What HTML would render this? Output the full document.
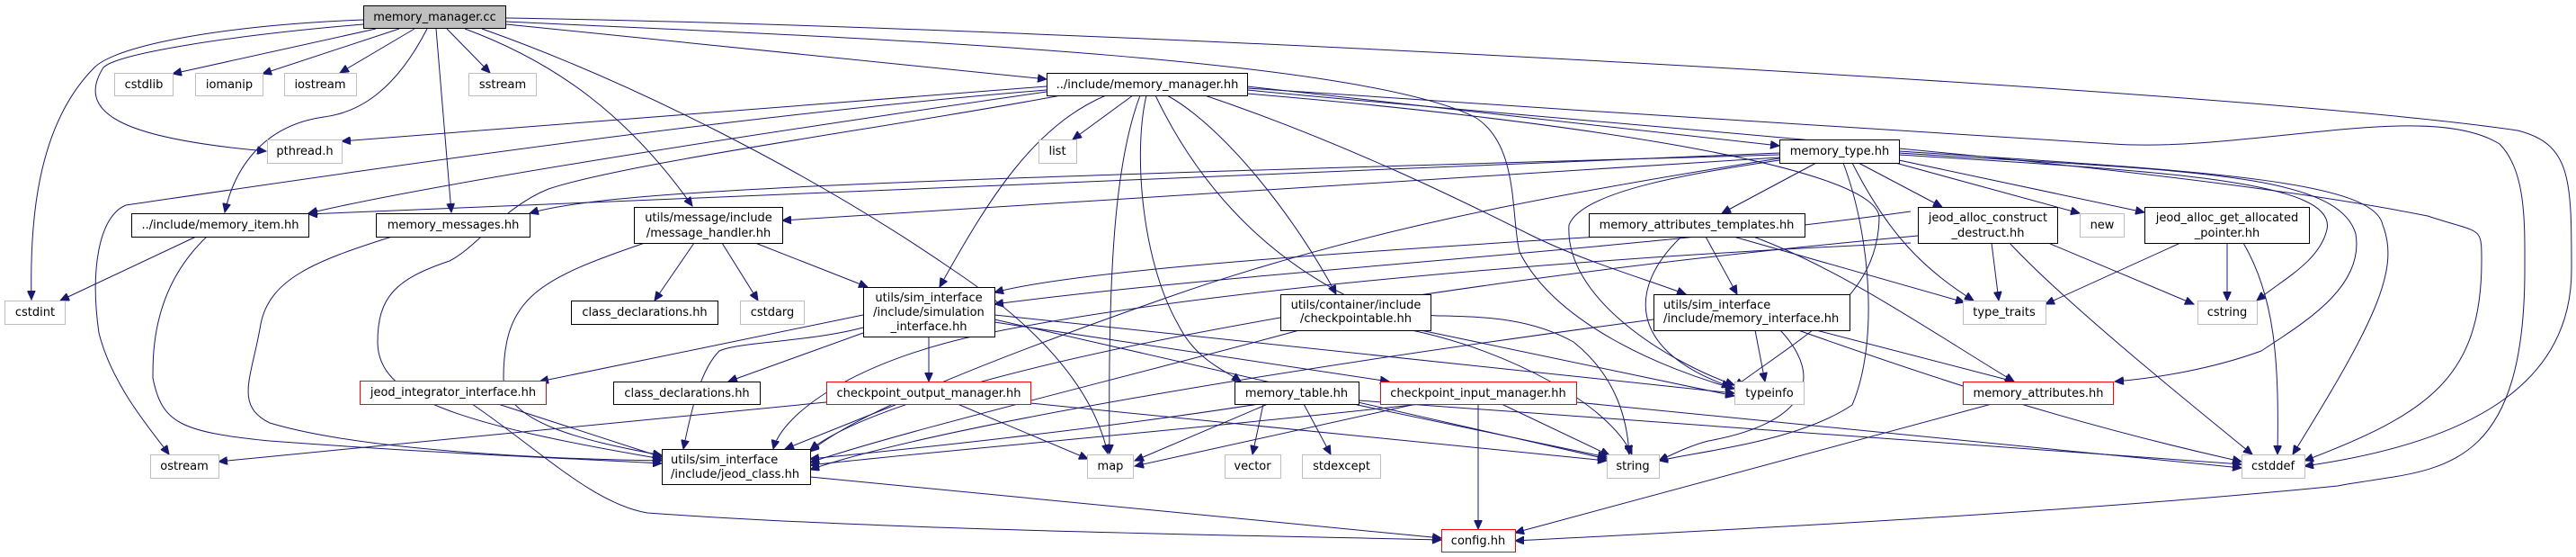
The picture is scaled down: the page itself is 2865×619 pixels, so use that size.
<!DOCTYPE html>
<html><head><meta charset="utf-8"><style>
html,body{margin:0;padding:0;background:#fff;}
svg{display:block;}
text{font-family:"DejaVu Sans","Liberation Sans",sans-serif;font-size:13px;fill:#000;}
.n rect{fill:#fff;stroke:#000;stroke-width:1;}
.g rect{fill:#fff;stroke:#bfbfbf;stroke-width:1;}
.r rect{fill:#fff;stroke:#ff0000;stroke-width:1;}
.e path{fill:none;stroke:#191970;stroke-width:1;}
</style></head><body>
<svg width="2865" height="619" viewBox="0 0 2865 619" xmlns="http://www.w3.org/2000/svg">
<defs><marker id="a" markerWidth="11" markerHeight="9" refX="10" refY="4.5" orient="auto" markerUnits="userSpaceOnUse"><path d="M0,0 L10,4.5 L0,9 z" fill="#191970" stroke="#191970"/></marker></defs>
<g class="e" marker-end="url(#a)">
<!-- memory_manager.cc -->
<path marker-end="url(#a)" d="M404,22 C250,28 130,50 105,75 C40,140 33,250 35,333"/>
<path marker-end="url(#a)" d="M404,27 C250,40 130,60 115,75 C80,130 150,155 296,168"/>
<path marker-end="url(#a)" d="M418,32 L192,82"/>
<path marker-end="url(#a)" d="M444,32 L292,82"/>
<path marker-end="url(#a)" d="M461,32 L378,81"/>
<path marker-end="url(#a)" d="M475,32 C440,100 400,125 360,130 C290,140 260,190 250,236"/>
<path marker-end="url(#a)" d="M485,32 L502,236"/>
<path marker-end="url(#a)" d="M497,32 L545,81"/>
<path marker-end="url(#a)" d="M563,27 L1164,88"/>
<path marker-end="url(#a)" d="M517,32 C620,70 700,130 770,229"/>
<path marker-end="url(#a)" d="M536,32 C700,90 900,190 1060,300 C1180,380 1220,450 1232,504"/>
<path marker-end="url(#a)" d="M563,24 C900,40 1500,60 1640,130 C1690,160 1680,240 1690,280 C1730,360 1850,410 1929,432"/>
<path marker-end="url(#a)" d="M563,20 C1200,30 2500,100 2800,145 C2860,160 2860,200 2860,300 C2860,420 2760,490 2563,518"/>
<!-- memory_manager.hh -->
<path marker-end="url(#a)" d="M1164,96 L380,157"/>
<path marker-end="url(#a)" d="M1164,100 C800,130 400,190 140,228 C110,240 100,300 110,370 C125,430 170,480 188,505"/>
<path marker-end="url(#a)" d="M1164,102 C900,140 500,200 343,237"/>
<path marker-end="url(#a)" d="M1180,106 C1000,140 700,180 610,210 C560,230 530,275 500,290 C440,310 420,330 420,380 C420,440 500,470 736,510"/>
<path marker-end="url(#a)" d="M1260,106 L1193,155"/>
<path marker-end="url(#a)" d="M1230,106 C1150,140 1100,220 1045,319"/>
<path marker-end="url(#a)" d="M1268,106 C1240,180 1232,300 1234,504"/>
<path marker-end="url(#a)" d="M1275,106 C1260,170 1270,290 1310,360 C1330,400 1360,410 1380,424"/>
<path marker-end="url(#a)" d="M1298,106 C1360,140 1440,240 1486,327"/>
<path marker-end="url(#a)" d="M1285,106 C1330,200 1400,280 1500,330 C1560,370 1660,330 1750,380 C1800,420 1810,470 1812,505"/>
<path marker-end="url(#a)" d="M1387,96 L1979,162"/>
<path marker-end="url(#a)" d="M1340,106 C1500,160 1640,230 1700,260 C1760,290 1830,310 1875,327"/>
<path marker-end="url(#a)" d="M1387,98 C1700,120 2200,150 2350,160 C2500,170 2700,110 2780,160 C2810,190 2808,250 2808,300 C2808,540 2700,520 2600,540 C2300,570 1900,590 1685,601"/>
<path marker-end="url(#a)" d="M1387,100 C1800,140 2400,180 2700,240 C2760,260 2760,250 2760,290 C2760,420 2700,460 2563,512"/>
<path marker-end="url(#a)" d="M1387,104 C1700,130 2080,180 2090,240 C2090,330 2010,370 1929,430"/>
<!-- memory_type.hh -->
<path marker-end="url(#a)" d="M1979,170 L343,238"/>
<path marker-end="url(#a)" d="M1979,172 C1000,200 680,210 589,237"/>
<path marker-end="url(#a)" d="M1979,175 L870,245"/>
<path marker-end="url(#a)" d="M2125,235 C1800,280 1400,300 1106,338"/>
<path marker-end="url(#a)" d="M1979,176 C1700,220 1500,260 1300,330 C1100,400 950,460 901,502"/>
<path marker-end="url(#a)" d="M2020,181 L1915,237"/>
<path marker-end="url(#a)" d="M1979,178 C1900,190 1760,210 1745,250 C1740,330 1850,400 1929,428"/>
<path marker-end="url(#a)" d="M2050,181 C2080,260 2090,380 2060,450 C2000,490 1900,500 1845,512"/>
<path marker-end="url(#a)" d="M2067,181 L2160,230"/>
<path marker-end="url(#a)" d="M2108,181 L2313,237"/>
<path marker-end="url(#a)" d="M2112,178 L2385,236"/>
<path marker-end="url(#a)" d="M2060,181 C2100,260 2140,300 2195,334"/>
<path marker-end="url(#a)" d="M2112,172 C2400,190 2600,200 2588,255 C2580,290 2540,310 2510,334"/>
<path marker-end="url(#a)" d="M2112,170 C2420,190 2600,190 2620,260 C2630,320 2560,360 2515,390 C2460,410 2400,420 2352,424"/>
<path marker-end="url(#a)" d="M2112,168 C2450,190 2640,200 2650,250 C2670,300 2640,360 2550,505"/>
<!-- memory_attributes_templates -->
<path marker-end="url(#a)" d="M1780,263 C1500,280 1200,300 1106,325"/>
<path marker-end="url(#a)" d="M2125,270 C1900,280 1400,310 1100,370 C950,400 870,460 860,499"/>
<path marker-end="url(#a)" d="M1897,263 L1932,327"/>
<path marker-end="url(#a)" d="M1870,263 C1810,320 1810,390 1925,430"/>
<path marker-end="url(#a)" d="M1928,263 L2185,336"/>
<path marker-end="url(#a)" d="M1950,263 C2050,300 2150,370 2240,424"/>
<!-- checkpointable -->
<path marker-end="url(#a)" d="M1445,367 C1250,420 1000,480 901,514"/>
<path marker-end="url(#a)" d="M1580,367 L1929,440"/>
<path marker-end="url(#a)" d="M1570,367 C1680,390 1790,450 1815,505"/>
<!-- memory_interface -->
<path marker-end="url(#a)" d="M1839,355 C1500,400 1050,470 901,522"/>
<path marker-end="url(#a)" d="M1952,367 L1963,424"/>
<path marker-end="url(#a)" d="M1980,367 C2030,420 2010,470 1900,490 C1880,495 1860,505 1845,512"/>
<path marker-end="url(#a)" d="M2020,367 L2240,424"/>
<path marker-end="url(#a)" d="M2000,367 C2150,420 2300,470 2493,513"/>
<!-- simulation_interface -->
<path marker-end="url(#a)" d="M960,350 L600,424"/>
<path marker-end="url(#a)" d="M960,370 L810,424"/>
<path marker-end="url(#a)" d="M1033,374 L1033,424"/>
<path marker-end="url(#a)" d="M960,364 C900,380 820,380 800,390 C780,410 770,450 760,499"/>
<path marker-end="url(#a)" d="M1106,358 L1545,424"/>
<path marker-end="url(#a)" d="M1106,355 L1787,510"/>
<path marker-end="url(#a)" d="M1106,350 L1929,437"/>
<!-- message_handler -->
<path marker-end="url(#a)" d="M772,270 L728,334"/>
<path marker-end="url(#a)" d="M803,270 L843,334"/>
<path marker-end="url(#a)" d="M840,270 L965,319"/>
<path marker-end="url(#a)" d="M717,270 C600,310 560,330 560,420 C560,470 650,490 736,506"/>
<!-- memory_item / memory_messages -->
<path marker-end="url(#a)" d="M218,263 L67,334"/>
<path marker-end="url(#a)" d="M230,263 C170,320 170,390 170,420 C180,470 200,480 300,490 C500,505 650,510 736,515"/>
<path marker-end="url(#a)" d="M436,263 C350,290 300,310 290,360 C280,420 260,450 300,470 C400,500 600,510 736,512"/>
<!-- jeod_integrator_interface -->
<path marker-end="url(#a)" d="M554,449 L736,508"/>
<path marker-end="url(#a)" d="M525,449 C600,500 660,560 720,570 C1000,590 1400,595 1603,600"/>
<!-- checkpoint_output_manager -->
<path marker-end="url(#a)" d="M998,449 L873,499"/>
<path marker-end="url(#a)" d="M1065,449 L1210,510"/>
<path marker-end="url(#a)" d="M919,447 L243,513"/>
<path marker-end="url(#a)" d="M1146,448 L1787,512"/>
<!-- memory_table -->
<path marker-end="url(#a)" d="M1400,449 C1200,480 1000,500 901,510"/>
<path marker-end="url(#a)" d="M1410,449 L1262,512"/>
<path marker-end="url(#a)" d="M1405,449 L1393,505"/>
<path marker-end="url(#a)" d="M1450,449 L1480,505"/>
<path marker-end="url(#a)" d="M1505,449 L1787,508"/>
<path marker-end="url(#a)" d="M1511,445 L2493,516"/>
<!-- checkpoint_input_manager -->
<path marker-end="url(#a)" d="M1580,449 C1300,480 1000,505 901,517"/>
<path marker-end="url(#a)" d="M1575,449 L1262,518"/>
<path marker-end="url(#a)" d="M1670,449 L1790,506"/>
<path marker-end="url(#a)" d="M1644,449 L1644,588"/>
<path marker-end="url(#a)" d="M1753,447 L2493,520"/>
<!-- jeod_class -->
<path marker-end="url(#a)" d="M901,530 L1603,598"/>
<!-- memory_attributes -->
<path marker-end="url(#a)" d="M2215,449 L1685,592"/>
<!-- jeod_alloc_construct -->
<path marker-end="url(#a)" d="M2133,262 C1500,320 1000,420 901,500"/>
<path marker-end="url(#a)" d="M2215,270 L2223,334"/>
<path marker-end="url(#a)" d="M2278,270 L2440,338"/>
<path marker-end="url(#a)" d="M2235,270 C2300,340 2450,460 2505,505"/>
<!-- jeod_alloc_get_allocated -->
<path marker-end="url(#a)" d="M2425,270 L2275,338"/>
<path marker-end="url(#a)" d="M2477,270 L2477,334"/>
<path marker-end="url(#a)" d="M2495,270 C2530,330 2535,400 2533,505"/>
</g>

<!-- nodes -->
<g><rect x="404.5" y="6.5" width="158" height="25" fill="#bfbfbf" stroke="#000"/><text x="483.5" y="23" text-anchor="middle">memory_manager.cc</text></g>
<g class="g"><rect x="127.5" y="81.5" width="65" height="25"/><text x="160" y="98" text-anchor="middle">cstdlib</text></g>
<g class="g"><rect x="217.5" y="81.5" width="75" height="25"/><text x="255" y="98" text-anchor="middle">iomanip</text></g>
<g class="g"><rect x="316.5" y="81.5" width="80" height="25"/><text x="356" y="98" text-anchor="middle">iostream</text></g>
<g class="g"><rect x="521.5" y="81.5" width="75" height="25"/><text x="559" y="98" text-anchor="middle">sstream</text></g>
<g class="n"><rect x="1164.5" y="81.5" width="223" height="25"/><text x="1276" y="98" text-anchor="middle">../include/memory_manager.hh</text></g>
<g class="g"><rect x="297.5" y="155.5" width="83" height="26"/><text x="339" y="172" text-anchor="middle">pthread.h</text></g>
<g class="g"><rect x="1155.5" y="155.5" width="42" height="26"/><text x="1176" y="172" text-anchor="middle">list</text></g>
<g class="n"><rect x="1979.5" y="155.5" width="133" height="26"/><text x="2046" y="172" text-anchor="middle">memory_type.hh</text></g>
<g class="n"><rect x="146.5" y="237.5" width="197" height="26"/><text x="245" y="254" text-anchor="middle">../include/memory_item.hh</text></g>
<g class="n"><rect x="418.5" y="237.5" width="171" height="26"/><text x="504" y="254" text-anchor="middle">memory_messages.hh</text></g>
<g class="n"><rect x="705.5" y="230.5" width="165" height="40"/><text x="788" y="246" text-anchor="middle">utils/message/include</text><text x="788" y="263" text-anchor="middle">/message_handler.hh</text></g>
<g class="n"><rect x="1767.5" y="237.5" width="240" height="26"/><text x="1887" y="254" text-anchor="middle">memory_attributes_templates.hh</text></g>
<g class="n"><rect x="2133.5" y="230.5" width="155" height="40"/><text x="2211" y="246" text-anchor="middle">jeod_alloc_construct</text><text x="2211" y="263" text-anchor="middle">_destruct.hh</text></g>
<g class="g"><rect x="2313.5" y="237.5" width="49" height="26"/><text x="2338" y="254" text-anchor="middle">new</text></g>
<g class="n"><rect x="2385.5" y="230.5" width="183" height="40"/><text x="2477" y="246" text-anchor="middle">jeod_alloc_get_allocated</text><text x="2477" y="263" text-anchor="middle">_pointer.hh</text></g>
<g class="g"><rect x="5.5" y="334.5" width="67" height="26"/><text x="39" y="351" text-anchor="middle">cstdint</text></g>
<g class="n"><rect x="635.5" y="334.5" width="163" height="26"/><text x="717" y="351" text-anchor="middle">class_declarations.hh</text></g>
<g class="g"><rect x="823.5" y="334.5" width="71" height="26"/><text x="859" y="351" text-anchor="middle">cstdarg</text></g>
<g class="n"><rect x="960.5" y="319.5" width="146" height="55"/><text x="1033" y="335" text-anchor="middle">utils/sim_interface</text><text x="1033" y="351" text-anchor="middle">/include/simulation</text><text x="1033" y="367" text-anchor="middle">_interface.hh</text></g>
<g class="n"><rect x="1424.5" y="327.5" width="167" height="40"/><text x="1508" y="343" text-anchor="middle">utils/container/include</text><text x="1508" y="358" text-anchor="middle">/checkpointable.hh</text></g>
<g class="n"><rect x="1839.5" y="327.5" width="218" height="40"/><text x="1850" y="343">utils/sim_interface</text><text x="1850" y="358">/include/memory_interface.hh</text></g>
<g class="g"><rect x="2183.5" y="334.5" width="92" height="26"/><text x="2229" y="351" text-anchor="middle">type_traits</text></g>
<g class="g"><rect x="2444.5" y="334.5" width="66" height="26"/><text x="2477" y="351" text-anchor="middle">cstring</text></g>
<g class="r"><rect x="400.5" y="423.5" width="207" height="26"/><text x="504" y="440" text-anchor="middle">jeod_integrator_interface.hh</text></g>
<g class="n"><rect x="682.5" y="424.5" width="163" height="25"/><text x="764" y="441" text-anchor="middle">class_declarations.hh</text></g>
<g class="r"><rect x="919.5" y="424.5" width="227" height="25"/><text x="1033" y="441" text-anchor="middle">checkpoint_output_manager.hh</text></g>
<g class="n"><rect x="1373.5" y="424.5" width="138" height="25"/><text x="1442" y="441" text-anchor="middle">memory_table.hh</text></g>
<g class="r"><rect x="1535.5" y="424.5" width="218" height="25"/><text x="1644" y="441" text-anchor="middle">checkpoint_input_manager.hh</text></g>
<g class="g"><rect x="1929.5" y="424.5" width="77" height="25"/><text x="1968" y="441" text-anchor="middle">typeinfo</text></g>
<g class="r"><rect x="2183.5" y="424.5" width="167" height="25"/><text x="2267" y="441" text-anchor="middle">memory_attributes.hh</text></g>
<g class="g"><rect x="167.5" y="505.5" width="76" height="26"/><text x="205" y="522" text-anchor="middle">ostream</text></g>
<g class="n"><rect x="736.5" y="499.5" width="165" height="39"/><text x="746" y="515">utils/sim_interface</text><text x="746" y="531">/include/jeod_class.hh</text></g>
<g class="g"><rect x="1209.5" y="505.5" width="51" height="26"/><text x="1235" y="522" text-anchor="middle">map</text></g>
<g class="g"><rect x="1362.5" y="505.5" width="62" height="26"/><text x="1393" y="522" text-anchor="middle">vector</text></g>
<g class="g"><rect x="1448.5" y="505.5" width="87" height="26"/><text x="1492" y="522" text-anchor="middle">stdexcept</text></g>
<g class="g"><rect x="1787.5" y="505.5" width="58" height="26"/><text x="1816" y="522" text-anchor="middle">string</text></g>
<g class="g"><rect x="2493.5" y="505.5" width="70" height="26"/><text x="2528" y="522" text-anchor="middle">cstddef</text></g>
<g class="r"><rect x="1603.5" y="588.5" width="82" height="25"/><text x="1644" y="605" text-anchor="middle">config.hh</text></g>
</svg>
</body></html>
